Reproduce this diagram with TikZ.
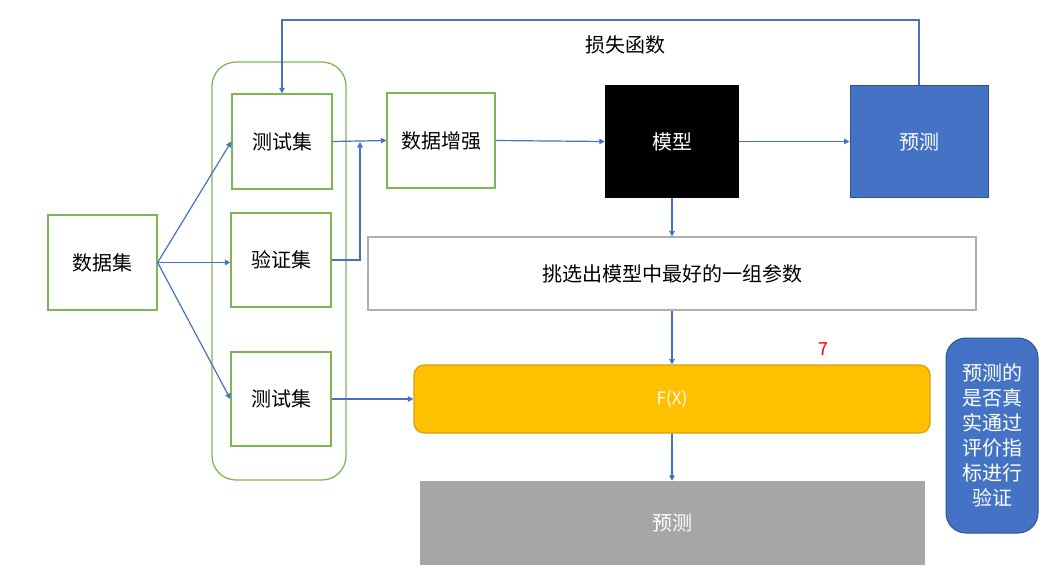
\documentclass[tikz,border=0pt]{standalone}
\usepackage{fontspec}
\newfontfamily\cjk{Noto Sans CJK SC}
\usetikzlibrary{arrows.meta}
\definecolor{grn}{RGB}{124,183,84}
\definecolor{lblue}{RGB}{68,114,196}
\definecolor{dblue}{RGB}{47,82,143}
\definecolor{gold}{RGB}{255,192,0}
\definecolor{golddk}{RGB}{214,160,20}
\definecolor{gry}{RGB}{166,166,166}
\definecolor{gryline}{RGB}{175,175,175}
\tikzset{
  txt/.style={font=\cjk\fontsize{20}{25}\selectfont, align=center, inner sep=0pt},
  gbox/.style={txt, draw=grn, line width=1.3pt},
  arr/.style={draw=lblue, line width=1.2pt, -{Triangle[width=5.5pt,length=5.5pt]}},
}
\begin{document}
\begin{tikzpicture}[x=1pt,y=-1pt]
\useasboundingbox (0,0) rectangle (1057,579);
% container
\node[draw=grn, line width=1.3pt, rounded corners=24pt, minimum width=134pt, minimum height=418pt, inner sep=0pt] (grp) at (279,271) {};
% boxes
\node[gbox, minimum width=109pt, minimum height=95pt] (ds) at (102.5,262.5) {数据集};
\node[gbox, minimum width=100pt, minimum height=95pt] (t1) at (282,141.5) {测试集};
\node[gbox, minimum width=100pt, minimum height=94pt] (v) at (281,260) {验证集};
\node[gbox, minimum width=100pt, minimum height=94pt] (t2) at (281,399) {测试集};
\node[gbox, minimum width=108pt, minimum height=95pt] (aug) at (441,140.5) {数据增强};
\node[txt, fill=black, text=white, minimum width=134pt, minimum height=113pt] (model) at (672,141.5) {模型};
\node[txt, fill=lblue, draw=dblue, line width=1pt, text=white, minimum width=138pt, minimum height=112pt] (pred) at (919,141.5) {预测};
\node[txt, draw=gryline, line width=1.2pt, minimum width=608pt, minimum height=73pt] (sel) at (672,273.5) {挑选出模型中最好的一组参数};
\node[txt, fill=gold, draw=golddk, line width=1.2pt, rounded corners=10pt, text=white, minimum width=516pt, minimum height=68pt, font=\cjk\fontsize{17}{20}\selectfont] (fx) at (672,399) {F(X)};
\node[txt, fill=gry, text=white, minimum width=505pt, minimum height=84pt] (out) at (672,523) {预测};
\node[txt, fill=lblue, draw=dblue, line width=1pt, rounded corners=20pt, text=white, minimum width=92pt, minimum height=195pt] (note) at (992,435.5) {预测的\\是否真\\实通过\\评价指\\标进行\\验证};
% labels
\node[txt] (loss) at (625,45) {损失函数};
\node[txt, text=red, font=\cjk\fontsize{18}{20}\selectfont] (seven) at (823,349) {7};
% connectors
\coordinate (lossL) at (282,20);
\coordinate (j) at (360,142);
\draw[arr] (ds.east) -- (t1.west);
\draw[arr] (ds.east) -- (ds.east -| v.west);
\draw[arr] (ds.east) -- (t2.west);
\draw[arr] (t1.east) -- (aug.west);
\draw[arr] (v.east) -| (j);
\draw[arr] (aug.east) -- (model.west);
\draw[arr] (model.east) -- (pred.west);
\draw[arr] (pred.north) |- (lossL) -- (t1.north);
\draw[arr] (model.south) -- (sel.north);
\draw[arr] (sel.south) -- (fx.north);
\draw[arr] (t2.east) -- (fx.west);
\draw[arr] (fx.south) -- (out.north);
\end{tikzpicture}
\end{document}
